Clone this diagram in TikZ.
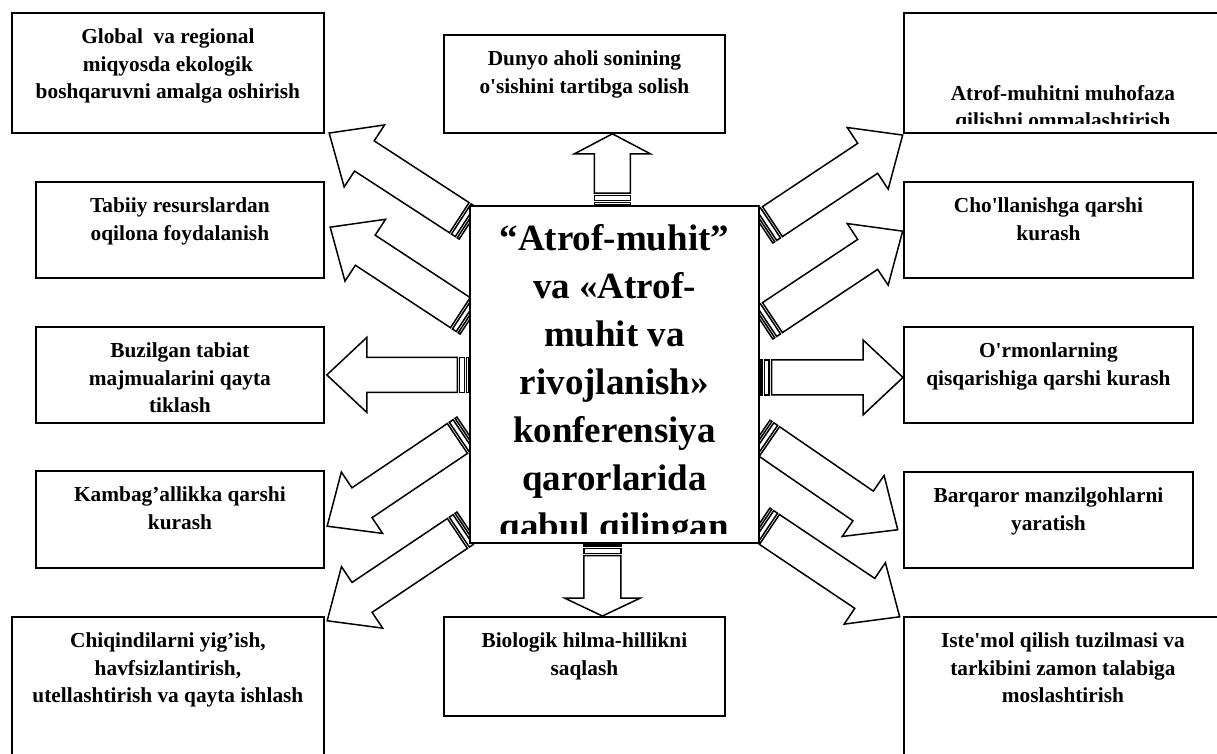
\documentclass[tikz,border=0pt]{standalone}
\usepackage{fontspec}
\setmainfont{Liberation Serif}
\usetikzlibrary{calc,backgrounds}

% text of a box: [top to first baseline]{width}{height}{lines}
\newcommand\btext[4][18.6pt]{\parbox[t][#3][t]{#2}{\centering\rule{0pt}{#1}#4}}

% striped arrow: {tail}{tip}{shaft half width}{head half width}{head length}, in px
\newcommand\sarrow[5]{%
  \path let \p1=($(#2)-(#1)$) in \pgfextra{%
    \pgfmathsetmacro\arrang{atan2(\y1,\x1)}\xdef\arrang{\arrang}%
    \pgfmathsetmacro\arrlen{veclen(\x1,\y1)/0.6}\xdef\arrlen{\arrlen}};
  \begin{scope}[shift={(#1)}, rotate=\arrang, x=0.6pt, y=0.6pt]
    \pgfmathsetmacro\arrss{2*#4}
    \draw[arrowline] (0,-#3) rectangle (\arrss/32,#3);
    \draw[arrowline] (\arrss/16,-#3) rectangle (\arrss/8,#3);
    \draw[arrowline] (5*\arrss/32,-#3) -- (\arrlen-#5,-#3) -- (\arrlen-#5,-#4)
      -- (\arrlen,0) -- (\arrlen-#5,#4) -- (\arrlen-#5,#3) -- (5*\arrss/32,#3) -- cycle;
  \end{scope}}

\begin{document}
\begin{tikzpicture}[x=0.6pt, y=-0.6pt,
    box/.style={draw, line width=1.1pt, fill=white, inner sep=0pt, anchor=north west,
      font=\bfseries\fontsize{12.8}{16.5}\selectfont},
    arrowline/.style={line width=0.9pt, fill=white, line join=miter}]
  \useasboundingbox (0,0) rectangle (1217,753);

  % left column
  \node[box] (glob) at (11,12) {\btext{187.2pt}{72pt}{Global\ \ va regional\\miqyosda ekologik\\boshqaruvni amalga oshirish}};
  \node[box] (tabiiy) at (35,181) {\btext{172.8pt}{57.6pt}{Tabiiy resurslardan\\oqilona foydalanish}};
  \node[box] (buzil) at (35,326) {\btext{172.8pt}{57.6pt}{Buzilgan tabiat\\majmualarini qayta\\tiklash}};
  \node[box] (kamb) at (35,470) {\btext{172.8pt}{58.2pt}{Kambag’allikka qarshi\\kurash}};
  \node[box] (chiq) at (11,616) {\btext{187.2pt}{86.4pt}{Chiqindilarni yig’ish,\\havfsizlantirish,\\utellashtirish va qayta ishlash}};

  % middle
  \node[box] (dunyo) at (443,34) {\btext{168.6pt}{58.8pt}{Dunyo aholi sonining\\o\textquotesingle{}sishini tartibga solish}};
  \node[box] (biol) at (443,616) {\btext{168.6pt}{59.4pt}{Biologik hilma-hillikni\\saqlash}};
  \node[box] (c) at (469,205) {\btext{173.4pt}{202.2pt}{}};

  % right column
  \node[box] (atrof) at (903,12) {\btext{190.8pt}{72pt}{}};
  \node[box] (choll) at (903,181) {\btext{173.4pt}{57.6pt}{Cho\textquotesingle{}llanishga qarshi\\kurash}};
  \node[box] (ormon) at (903,326) {\btext{173.4pt}{57.6pt}{O\textquotesingle{}rmonlarning\\qisqarishiga qarshi kurash}};
  \node[box] (barq) at (903,471) {\btext{173.4pt}{57.6pt}{Barqaror manzilgohlarni\\yaratish}};
  \node[box] (istem) at (903,616) {\btext{190.8pt}{86.4pt}{Iste\textquotesingle{}mol qilish tuzilmasi va\\tarkibini zamon talabiga\\moslashtirish}};

  % texts cut off by their boxes
  \begin{scope}
    \clip (c.north west) rectangle ($(c.south east)+(0,-10)$);
    \node[anchor=north, inner sep=0pt, font=\bfseries\fontsize{22.2}{28.8}\selectfont] (ctext) at (c.north)
      {\parbox[t]{173.4pt}{\centering\rule{0pt}{27pt}“Atrof-muhit”\\va «Atrof-\\muhit va\\rivojlanish»\\konferensiya\\qarorlarida\\qabul qilingan}};
  \end{scope}
  \begin{scope}
    \clip (atrof.north west) rectangle ($(atrof.south east)+(0,-10)$);
    \node[anchor=north, inner sep=0pt, font=\bfseries\fontsize{12.8}{16.5}\selectfont] (atext) at (atrof.north)
      {\parbox[t]{190.8pt}{\centering\rule{0pt}{52.8pt}Atrof-muhitni muhofaza\\qilishni ommalashtirish}};
  \end{scope}

  % tails on the centre box
  \coordinate (t1) at ($(c.north west)+(0,19)$);
  \coordinate (t2) at ($(c.north west)+(1,114)$);
  \coordinate (t3) at ($(c.west)+(0,0.5)$);
  \coordinate (t4) at ($(c.north west)+(-2,227)$);
  \coordinate (t5) at ($(c.north west)+(-2,322)$);
  \coordinate (t6) at ($(c.north east)+(3,23)$);
  \coordinate (t7) at ($(c.north east)+(3,119)$);
  \coordinate (t8) at ($(c.east)+(0,3)$);
  \coordinate (t9) at ($(c.north east)+(0,230)$);
  \coordinate (t10) at ($(c.north east)+(0,318)$);
  \coordinate (t11) at ($(c.north)+(-2,0)$);
  \coordinate (t12) at ($(c.south)+(-12,0)$);
  % tips at the outer boxes
  \coordinate (h1) at ($(glob.south east)+(4,-1)$);
  \coordinate (h2) at ($(tabiiy.east)+(5,-3)$);
  \coordinate (h3) at ($(t3 -| buzil.east)+(2,0)$);
  \coordinate (h4) at ($(kamb.east)+(2,7)$);
  \coordinate (h5) at ($(chiq.north east)+(2,5)$);
  \coordinate (h6) at ($(atrof.south west)+(0,1)$);
  \coordinate (h7) at ($(choll.west)+(0,1)$);
  \coordinate (h8) at (t8 -| ormon.west);
  \coordinate (h9) at ($(barq.west)+(-5,10)$);
  \coordinate (h10) at ($(istem.north west)+(-3,1)$);
  \coordinate (h11) at (t11 |- dunyo.south);
  \coordinate (h12) at (t12 |- biol.north);

  \begin{scope}[on background layer]
    \sarrow{t1}{h1}{18}{37}{42}
    \sarrow{t2}{h2}{18}{37}{42}
    \sarrow{t3}{h3}{17.5}{37.5}{40}
    \sarrow{t4}{h4}{18}{37}{42}
    \sarrow{t5}{h5}{18}{37}{42}
    \sarrow{t6}{h6}{18}{37}{42}
    \sarrow{t7}{h7}{18}{37}{42}
    \sarrow{t8}{h8}{17.5}{37.5}{40}
    \sarrow{t9}{h9}{18}{37}{42}
    \sarrow{t10}{h10}{18}{37}{42}
    \sarrow{t11}{h11}{18}{38}{20}
    \sarrow{t12}{h12}{18.5}{38}{18}
  \end{scope}
\end{tikzpicture}
\end{document}
